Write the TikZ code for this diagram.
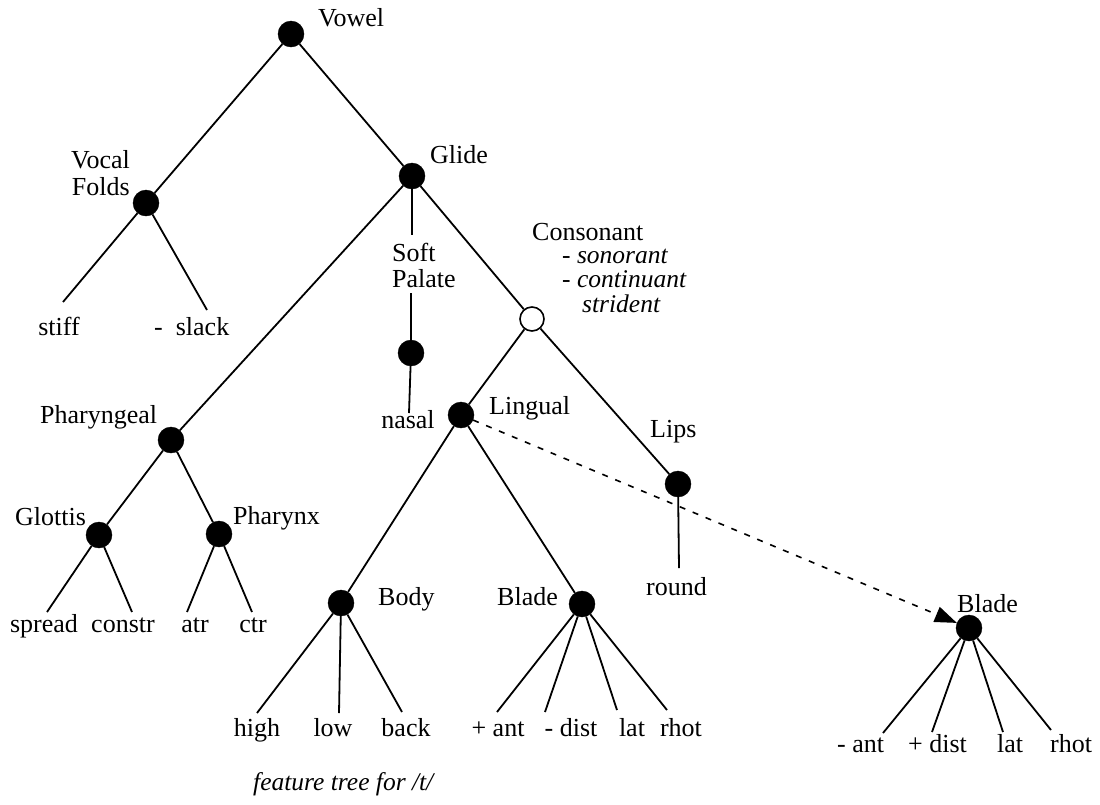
\documentclass[tikz,border=0pt]{standalone}
\usepackage{fontspec}
\setmainfont{Liberation Serif}
\usetikzlibrary{arrows.meta}
\begin{document}
\begin{tikzpicture}[x=1pt,y=-1pt,
  dot/.style={circle,fill=black,draw=black,inner sep=0pt,minimum size=26pt},
  hollow/.style={circle,fill=white,draw=black,line width=1.6pt,inner sep=0pt,minimum size=24pt},
  lbl/.style={inner sep=0pt,font=\fontsize{26}{28}\selectfont},
  ilbl/.style={inner sep=0pt,font=\fontsize{25.5}{27}\selectfont\itshape},
  branch/.style={line width=1.8pt},
  ]
\useasboundingbox (0,0) rectangle (1100,804);

% feature nodes
\node[dot] (vowel) at (291,34) {};
\node[dot] (vf) at (146,203) {};
\node[dot] (glide) at (412,176) {};
\node[dot] (spal) at (411,353) {};
\node[hollow] (cons) at (532,319) {};
\node[dot] (phar) at (171,440) {};
\node[dot] (ling) at (461,415) {};
\node[dot] (lips) at (678,484) {};
\node[dot] (glot) at (99,535) {};
\node[dot] (phx) at (219,534) {};
\node[dot] (body) at (341,603) {};
\node[dot] (blade) at (582,604) {};
\node[dot] (bladeb) at (969,628) {};

% node labels
\node[lbl,anchor=base west] (tVowel) at (318,26) {Vowel};
\node[lbl,anchor=base east] (tVocal) at (130,168) {Vocal};
\node[lbl,anchor=base east] (tFolds) at (130,195) {Folds};
\node[lbl,anchor=base west] (tGlide) at (430,163) {Glide};
\node[lbl,anchor=base west] (tSoft) at (392,261) {Soft};
\node[lbl,anchor=base west] (tPalate) at (392,287) {Palate};
\node[lbl,anchor=base west] (tCons) at (532,240) {Consonant};
\node[ilbl,anchor=base west] (tSon) at (562,263) {- sonorant};
\node[ilbl,anchor=base west] (tCont) at (562,287) {- continuant};
\node[ilbl,anchor=base west] (tStr) at (582,312) {strident};
\node[lbl,anchor=base west] (tPhar) at (40,423) {Pharyngeal};
\node[lbl,anchor=base west] (tLing) at (489,414) {Lingual};
\node[lbl,anchor=base west] (tLips) at (650,437) {Lips};
\node[lbl,anchor=base west] (tGlot) at (15,525) {Glottis};
\node[lbl,anchor=base west] (tPhx) at (233,524) {Pharynx};
\node[lbl,anchor=base west] (tBody) at (378,605) {Body};
\node[lbl,anchor=base west] (tBlade) at (497,605) {Blade};
\node[lbl,anchor=base west] (tBladeb) at (957,612) {Blade};

% terminal features
\node[lbl,anchor=base] (stiff) at (59,335) {stiff};
\node[lbl,anchor=base west] (slack) at (154,335) {-\ \ slack};
\node[lbl,anchor=base] (nasal) at (408,428) {nasal};
\node[lbl,anchor=base west] (round) at (646,595) {round};
\node[lbl,anchor=base] (spread) at (44,632) {spread};
\node[lbl,anchor=base] (constr) at (123,632) {constr};
\node[lbl,anchor=base] (atr) at (195,632) {atr};
\node[lbl,anchor=base] (ctr) at (253,632) {ctr};
\node[lbl,anchor=base] (high) at (257,736) {high};
\node[lbl,anchor=base] (low) at (333,736) {low};
\node[lbl,anchor=base] (back) at (406,736) {back};
\node[lbl,anchor=base] (pant) at (498,736) {+ ant};
\node[lbl,anchor=base] (mdist) at (571,736) {- dist};
\node[lbl,anchor=base] (lat) at (632,736) {lat};
\node[lbl,anchor=base] (rhot) at (681,736) {rhot};
\node[lbl,anchor=base west] (mant) at (837,752) {- ant};
\node[lbl,anchor=base west] (pdist) at (908,752) {+ dist};
\node[lbl,anchor=base west] (latb) at (997,752) {lat};
\node[lbl,anchor=base west] (rhotb) at (1050,752) {rhot};
\node[ilbl,anchor=base west] (caption) at (253,790) {feature tree for /t/};

% free ends of the branches
\coordinate (eStiff) at (63,302);
\coordinate (eSlack) at (207,310);
\coordinate (eSoftT) at (412,235);
\coordinate (eSoftB) at (411,293);
\coordinate (eNasal) at (409,413);
\coordinate (eRound) at (679,568);
\coordinate (eSpread) at (47,612);
\coordinate (eConstr) at (132,612);
\coordinate (eAtr) at (187,612);
\coordinate (eCtr) at (252,612);
\coordinate (eHigh) at (257,713);
\coordinate (eLow) at (339,713);
\coordinate (eBack) at (402,712);
\coordinate (ePant) at (497,712);
\coordinate (eMdist) at (545,712);
\coordinate (eLat) at (617,710);
\coordinate (eRhot) at (667,710);
\coordinate (eMant) at (883,733);
\coordinate (ePdist) at (932,732);
\coordinate (eLatb) at (1003,732);
\coordinate (eRhotb) at (1051,730);

% tree branches
\draw[branch] (vowel) -- (vf);
\draw[branch] (vowel) -- (glide);
\draw[branch] (vf) -- (eStiff);
\draw[branch] (vf) -- (eSlack);
\draw[branch] (glide) -- (eSoftT);
\draw[branch] (eSoftB) -- (spal);
\draw[branch] (spal) -- (eNasal);
\draw[branch] (glide) -- (phar);
\draw[branch] (glide) -- (cons);
\draw[branch] (cons) -- (ling);
\draw[branch] (cons) -- (lips);
\draw[branch] (lips) -- (eRound);
\draw[branch] (phar) -- (glot);
\draw[branch] (phar) -- (phx);
\draw[branch] (glot) -- (eSpread);
\draw[branch] (glot) -- (eConstr);
\draw[branch] (phx) -- (eAtr);
\draw[branch] (phx) -- (eCtr);
\draw[branch] (ling) -- (body);
\draw[branch] (ling) -- (blade);
\draw[branch] (body) -- (eHigh);
\draw[branch] (body) -- (eLow);
\draw[branch] (body) -- (eBack);
\draw[branch] (blade) -- (ePant);
\draw[branch] (blade) -- (eMdist);
\draw[branch] (blade) -- (eLat);
\draw[branch] (blade) -- (eRhot);
\draw[branch] (bladeb) -- (eMant);
\draw[branch] (bladeb) -- (ePdist);
\draw[branch] (bladeb) -- (eLatb);
\draw[branch] (bladeb) -- (eRhotb);

% dashed link from Lingual to the second Blade
\draw[line width=1.6pt,dash pattern=on 6pt off 8pt,-{Triangle[length=22pt,width=16pt]}] (ling) -- (bladeb);
\end{tikzpicture}
\end{document}
